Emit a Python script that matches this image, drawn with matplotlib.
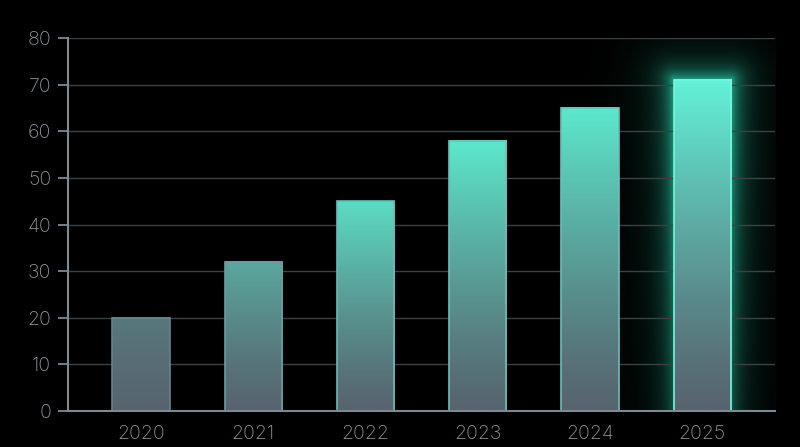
import matplotlib
matplotlib.use("Agg")
import matplotlib.pyplot as plt
import numpy as np
from matplotlib.colors import to_rgb, LinearSegmentedColormap

# datos del grafico
anios = ["2020", "2021", "2022", "2023", "2024", "2025"]
valores = [20, 32, 45, 58, 65, 71]
marcas_y = [0, 10, 20, 30, 40, 50, 60, 70, 80]

plt.rcParams['font.family'] = ['Inter', 'DejaVu Sans']

fondo = "#000000"
pizarra = np.array(to_rgb("#57646f"))
turquesa = np.array(to_rgb("#5ce8cc"))
turquesa_brillo = np.array(to_rgb("#62f2d8"))

fig = plt.figure(figsize=(8, 4.47), dpi=100, facecolor=fondo)
ax = fig.add_axes([0.085, 0.0805, 0.884, 0.8345])
ax.set_facecolor(fondo)

x = np.arange(len(anios))
ancho = 0.51
ax.set_xlim(-0.65, len(anios) - 0.35)
ax.set_ylim(0, 80)

# brillo alrededor de la ultima barra (en pixeles del eje)
bbox = ax.get_window_extent()
w_px, h_px = int(bbox.width), int(bbox.height)
xs = np.linspace(ax.get_xlim()[0], ax.get_xlim()[1], w_px)
ys = np.linspace(80, 0, h_px)
px_x = w_px / (ax.get_xlim()[1] - ax.get_xlim()[0])
px_y = h_px / 80.0
XX, YY = np.meshgrid(xs, ys)
i_ult = len(valores) - 1
x0, x1 = x[i_ult] - ancho / 2, x[i_ult] + ancho / 2
dx = np.maximum(np.maximum(x0 - XX, XX - x1), 0) * px_x
dy = np.maximum(YY - valores[i_ult], 0) * px_y
d = np.sqrt(dx ** 2 + dy ** 2)
vert = 0.55 + 0.45 * np.clip(YY / valores[i_ult], 0, 1)
alfa = (0.45 * np.exp(-d / 9.0) + 0.3 * np.exp(-d / 24.0)) * vert
alfa[d == 0] = 0
glow = np.zeros((h_px, w_px, 4))
glow[..., :3] = to_rgb("#2bd6b0")
glow[..., 3] = np.clip(alfa, 0, 1)
ax.imshow(glow, extent=[xs[0], xs[-1], 0, 80], aspect="auto", zorder=0.2,
          interpolation="bilinear")

# lineas de la cuadricula
ax.set_yticks(marcas_y)
ax.yaxis.grid(True, color="#3a4147", linewidth=1.0)
ax.set_axisbelow(True)

# barras con degradado
for i, v in enumerate(valores):
    t = np.clip((v - 15) / 33.0, 0, 1)
    arriba = turquesa_brillo if i == i_ult else pizarra + (turquesa - pizarra) * t
    cmap = LinearSegmentedColormap.from_list("g%d" % i, [pizarra, arriba])
    grad = np.linspace(1, 0, 256).reshape(-1, 1) ** 1.2
    ax.imshow(grad, cmap=cmap, extent=[x[i] - ancho / 2, x[i] + ancho / 2, 0, v],
              aspect="auto", zorder=3, vmin=0, vmax=1)
    borde_arriba = np.clip(arriba * 1.12, 0, 1)
    borde = "#78f5dc" if i == i_ult else tuple(np.clip(pizarra * 0.5 + borde_arriba * 0.5 + 0.05, 0, 1))
    ax.add_patch(plt.Rectangle((x[i] - ancho / 2, 0), ancho, v, fill=False,
                               edgecolor=borde, linewidth=1.2, zorder=4))

ax.set_xlim(-0.65, len(anios) - 0.35)
ax.set_ylim(0, 80)

ax.set_xticks(x)
ax.set_xticklabels(anios)

for lado in ["top", "right"]:
    ax.spines[lado].set_visible(False)
for lado in ["left", "bottom"]:
    ax.spines[lado].set_color("#7d8a94")
    ax.spines[lado].set_linewidth(1.5)
    ax.spines[lado].set_zorder(5)

ax.tick_params(axis="y", colors="#7d8a94", labelcolor="#8e969d", length=7,
               width=1.3, pad=5, labelsize=14)
ax.tick_params(axis="x", length=0, labelcolor="#8e969d", pad=10, labelsize=14)
for etiqueta in ax.get_xticklabels() + ax.get_yticklabels():
    etiqueta.set_fontweight("light")

fig.savefig("out.png", dpi=100, facecolor=fondo)
